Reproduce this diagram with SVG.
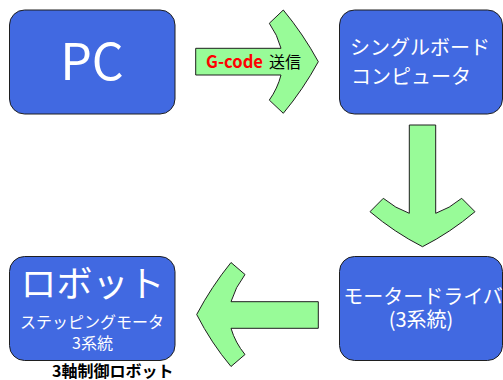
<svg xmlns="http://www.w3.org/2000/svg" width="503" height="380" viewBox="0 0 503 380">
<style>
.box{fill:#4169E1;stroke:#1f1f1f;stroke-width:1}
.arr{fill:#98FB98;stroke:#1f1f1f;stroke-width:1;stroke-linejoin:miter}
.t{font-family:"Noto Sans CJK JP","Noto Sans",sans-serif;fill:#fff}
.b{font-family:"Noto Sans CJK JP","Noto Sans",sans-serif;font-weight:bold}
</style>
<rect width="503" height="380" fill="#fff"/>
<g id="connectors">
<path class="arr" d="M195.7,48.3 H281 Q277.5,34.8 269.3,23.3 L283.3,10 Q303.3,34.2 318.3,61.7 Q303.3,89.2 283.3,113.3 L269.3,100.1 Q277.5,88.6 281,75 H195.7 Z"/>
<path class="arr" d="M409.3,125 H435.7 V213.3 Q449.7,208.4 461.7,198.3 L475,211.7 Q450.4,232.5 422.5,246.7 Q394.6,232.5 370,211.7 L383.3,198.3 Q395.3,208.4 409.3,213.3 Z"/>
<path class="arr" d="M318.3,301.7 H231 Q235.3,287.2 245,274.5 L231,262.5 Q211.4,286.7 196.7,314.5 Q211.4,343.3 231,366.5 L245,354.5 Q235.3,342.8 231,328.3 H318.3 Z"/>
<text x="206" y="67.7" class="b" font-size="17.5" fill="#FF0000" textLength="57" lengthAdjust="spacingAndGlyphs">G-code</text>
<text x="269" y="67.7" font-family="Noto Sans CJK JP,sans-serif" font-size="16" fill="#000">送信</text>
</g>
<g id="pc">
<rect class="box" x="9.5" y="10" width="165.5" height="104" rx="15"/>
<text class="t" x="92" y="80" font-size="50" text-anchor="middle">PC</text>
</g>
<g id="sbc">
<rect class="box" x="339.5" y="10" width="163" height="104" rx="15"/>
<text class="t" x="350" y="55" font-size="20">シングルボード</text>
<text class="t" x="351" y="83.5" font-size="20">コンピュータ</text>
</g>
<g id="driver">
<rect class="box" x="339.5" y="256.5" width="163" height="104" rx="15"/>
<text class="t" x="423" y="303.5" font-size="20" text-anchor="middle">モータードライバ</text>
<text class="t" x="421" y="327" font-size="20" text-anchor="middle">(3系統)</text>
</g>
<g id="robot">
<rect class="box" x="9.5" y="256.5" width="165.5" height="104" rx="15"/>
<text class="t" x="92.5" y="297" font-size="36" text-anchor="middle">ロボット</text>
<text class="t" x="92" y="328" font-size="16" text-anchor="middle">ステッピングモータ</text>
<text class="t" x="92.5" y="348.5" font-size="16" text-anchor="middle">3系統</text>
<text class="b" x="52" y="376.5" font-size="16" fill="#000">3軸制御ロボット</text>
</g>
</svg>
